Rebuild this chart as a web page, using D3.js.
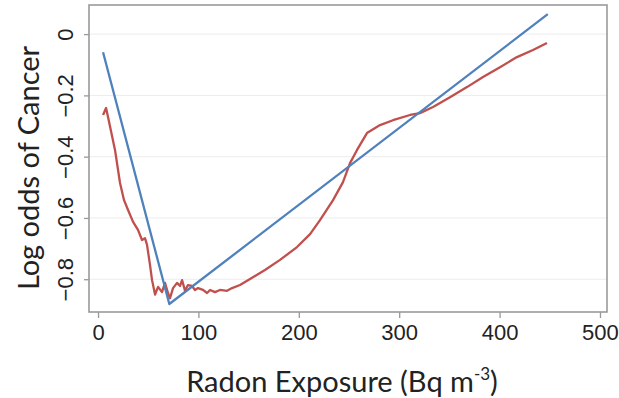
<!DOCTYPE html>
<html>
<head>
<meta charset="utf-8">
<script src="https://cdn.jsdelivr.net/npm/d3@7"></script>
<style>
  body { margin: 0; background: #fff; }
  svg { display: block; }
</style>
</head>
<body>
<svg id="chart" width="619" height="398"></svg>
<script>
// data
var xTicks = [0, 100, 200, 300, 400, 500];
var yTicks = [0, -0.2, -0.4, -0.6, -0.8];

// fitted linear spline (blue)
var blueX = [5, 71, 448];
var blueY = [-0.059, -0.881, 0.065];

// smoothed estimate (red)
var redX = [5, 8, 10, 16.9, 21.9, 25.9, 29.9, 34.9, 39.8, 43.8, 46.8, 48.8, 51.8, 53.8, 56.8,
  59.8, 63.7, 66.7, 69.7, 71.7, 74.7, 78.7, 81.7, 83.7, 86.7, 89.6, 93.6, 96.6, 99.6, 104.6,
  108.6, 111.6, 116.5, 121.5, 128.5, 133.5, 141.4, 151.4, 166.3, 181.3, 198.2, 211.2, 221.1,
  234.1, 244, 251, 258, 267.9, 280.9, 293.8, 310.8, 320.7, 333.7, 350.6, 367.5, 383.5, 400.4,
  417.3, 433.3, 447.2];
var redY = [-0.264, -0.241, -0.271, -0.378, -0.486, -0.542, -0.574, -0.613, -0.639, -0.672, -0.666,
  -0.688, -0.754, -0.803, -0.850, -0.825, -0.842, -0.812, -0.845, -0.862, -0.829, -0.812, -0.822,
  -0.803, -0.838, -0.819, -0.822, -0.835, -0.829, -0.835, -0.845, -0.835, -0.842, -0.835, -0.838,
  -0.829, -0.819, -0.799, -0.770, -0.737, -0.695, -0.653, -0.607, -0.542, -0.483, -0.421, -0.378,
  -0.323, -0.297, -0.281, -0.264, -0.258, -0.238, -0.206, -0.173, -0.140, -0.108, -0.075,
  -0.052, -0.029];

var svg = d3.select("#chart");
var pLeft = 89, pTop = 5, pRight = 607, pBottom = 312;

var x = d3.scaleLinear().domain([-9, 507]).range([pLeft, pRight]);
var y = d3.scaleLinear().domain([-0.907, 0.095]).range([pBottom, pTop]);

// gridlines
svg.append("g").selectAll("line").data(yTicks).enter().append("line")
  .attr("x1", pLeft).attr("x2", pRight)
  .attr("y1", function(d) { return y(d); }).attr("y2", function(d) { return y(d); })
  .attr("stroke", "#ececec").attr("stroke-width", 1);

// axes
var xAxis = svg.append("g")
  .attr("transform", "translate(0," + pBottom + ")")
  .call(d3.axisBottom(x).tickValues(xTicks).tickSize(6).tickPadding(6).tickFormat(d3.format("d")));
var yAxis = svg.append("g")
  .attr("transform", "translate(" + pLeft + ",0)")
  .call(d3.axisLeft(y).tickValues(yTicks).tickSize(5).tickFormat(function(d) { return d === 0 ? "0" : d3.format(".1f")(d); }));

[xAxis, yAxis].forEach(function(a) {
  a.select(".domain").remove();
  a.selectAll(".tick line").attr("stroke", "#999").attr("stroke-width", 1.3);
  a.selectAll(".tick text")
    .attr("fill", "#222")
    .style("font-family", "'Liberation Sans', Arial, sans-serif")
    .style("font-size", "22px");
});
xAxis.selectAll(".tick text").attr("dy", "0.71em");
yAxis.selectAll(".tick text")
  .attr("x", null).attr("dy", null)
  .attr("text-anchor", "middle")
  .attr("transform", "translate(-16,0) rotate(-90)");

// frame
svg.append("rect")
  .attr("x", pLeft).attr("y", pTop)
  .attr("width", pRight - pLeft).attr("height", pBottom - pTop)
  .attr("fill", "none").attr("stroke", "#9a9a9a").attr("stroke-width", 1.6);

var line = d3.line()
  .x(function(d) { return x(d[0]); })
  .y(function(d) { return y(d[1]); });

svg.append("path")
  .datum(d3.zip(redX, redY))
  .attr("d", line)
  .attr("fill", "none").attr("stroke", "#c0504d")
  .attr("stroke-width", 2.3).attr("stroke-linejoin", "round");

svg.append("path")
  .datum(d3.zip(blueX, blueY))
  .attr("d", line)
  .attr("fill", "none").attr("stroke", "#4f81bd")
  .attr("stroke-width", 2.3).attr("stroke-linejoin", "round");

// axis titles
var xt = svg.append("text")
  .attr("x", 342).attr("y", 392)
  .attr("text-anchor", "middle")
  .attr("fill", "#222")
  .style("font-family", "Lato, 'Open Sans', sans-serif")
  .style("font-size", "29px");
xt.append("tspan").text("Radon Exposure (Bq m");
xt.append("tspan").attr("dy", -12).style("font-size", "17px").text("-3");
xt.append("tspan").attr("dy", 12).text(")");

svg.append("text")
  .attr("transform", "translate(39,168) rotate(-90)")
  .attr("text-anchor", "middle")
  .attr("fill", "#222")
  .style("font-family", "Lato, 'Open Sans', sans-serif")
  .style("font-size", "29px")
  .text("Log odds of Cancer");
</script>
</body>
</html>
